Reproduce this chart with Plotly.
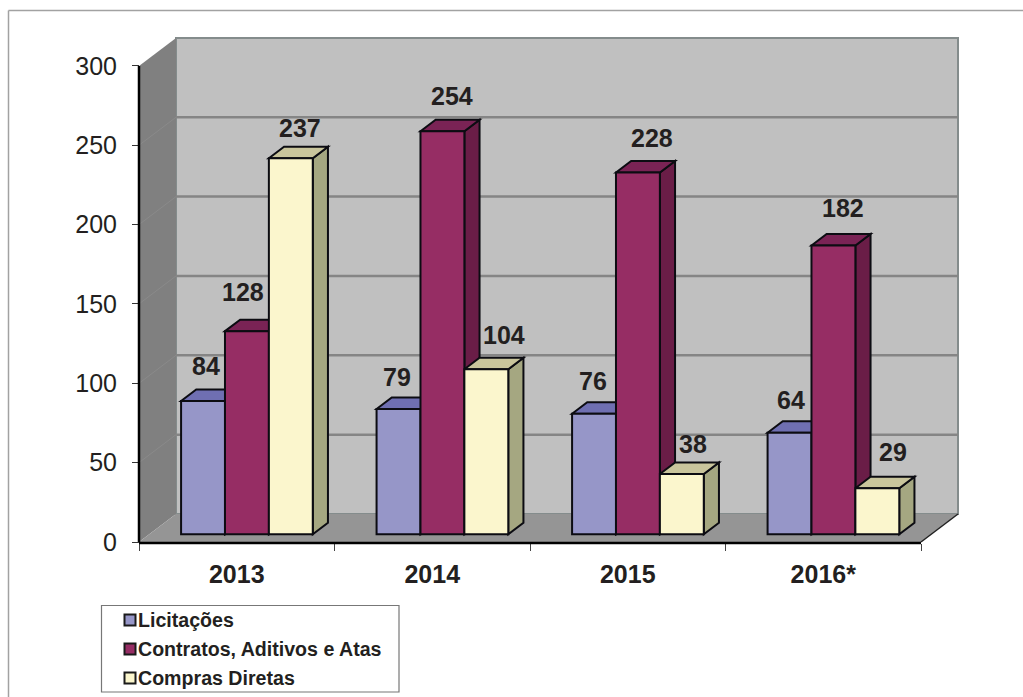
import plotly.graph_objects as go

# ---- data ----
years = ["2013", "2014", "2015", "2016*"]
series_names = ["Licitações", "Contratos, Aditivos e Atas", "Compras Diretas"]
licitacoes = [84, 79, 76, 64]
contratos = [128, 254, 228, 182]
compras = [237, 104, 38, 29]
y_ticks = [0, 50, 100, 150, 200, 250, 300]

# ---- styles ----
FRONT = ["#9696c8", "#962d64", "#fbf6cd"]
TOP = ["#6f6fb2", "#7a2355", "#c9c59c"]
SIDE = ["#5f5f9a", "#6a1d47", "#a5a781"]
INK = "#231f20"
EDGE = "#0c0c12"

# ---- layout geometry (pixels -> axis scales) ----
W, H = 1023, 697
PX0, PY0 = 139.0, 542.0           # axis origin in pixels
PX_PER_CAT, PX_PER_UNIT = 195.5, 1.587
DX = 37.0 / PX_PER_CAT            # full floor depth, horizontal shift in categories
DY = 28.0 / PX_PER_UNIT           # full floor depth, vertical shift in value units
D_FRONT, D_BACK = 0.275, 0.685    # depth of bar front/back faces
BAR_W = 43.9 / PX_PER_CAT

# label offsets (px) relative to the top of each front face
lab_dx = [[2.5, -2, -1.5, 1], [-4.4, 10, 13.6, 10], [8.7, 18, 10.7, 16]]
lab_dy = [[35, 32, 32.7, 32.7], [39, 35, 34.5, 37.5], [30, 34, 30, 36]]


def poly(points, fill, line=None, width=0, layer="below"):
    path = "M" + " L".join(f"{x},{y}" for x, y in points) + " Z"
    return dict(type="path", xref="x", yref="y", path=path, fillcolor=fill, layer=layer,
                line=dict(color=line or fill, width=width))


def seg(p, q, color, width, layer="below"):
    return dict(type="line", xref="x", yref="y", x0=p[0], y0=p[1], x1=q[0], y1=q[1],
                layer=layer, line=dict(color=color, width=width))


n_cat = len(years)
top_val = y_ticks[-1]
shapes = []

# frame (left + top edges of the picture)
shapes.append(dict(type="line", xref="paper", yref="paper", x0=8.5 / W, x1=8.5 / W, y0=0, y1=1 - 10.5 / H,
                   layer="below", line=dict(color="#a2a2a2", width=1.5)))
shapes.append(dict(type="line", xref="paper", yref="paper", x0=8.5 / W, x1=1, y0=1 - 10.5 / H, y1=1 - 10.5 / H,
                   layer="below", line=dict(color="#a2a2a2", width=1.5)))

# back wall, side wall, floor
shapes.append(poly([(DX, DY), (DX, top_val + DY), (n_cat + DX, top_val + DY), (n_cat + DX, DY)],
                   "#c0c0c0", "#848c8c", 2))
shapes.append(poly([(0, 0), (0, top_val), (DX, top_val + DY), (DX, DY)], "#808080"))
shapes.append(poly([(0, 0), (DX, DY), (n_cat + DX, DY), (n_cat, 0)], "#959595"))
shapes.append(seg((n_cat, 0), (n_cat + DX, DY), "#222222", 1.5))

# gridlines on the back and side walls
for t in y_ticks[1:-1]:
    shapes.append(seg((DX, t + DY), (n_cat + DX, t + DY), "#858585", 2.5))
    shapes.append(seg((0, t), (DX, t + DY), "#8a8a8a", 1))

# tops and sides of the bars, painted below the front faces
all_vals = [licitacoes, contratos, compras]
for c in range(n_cat):
    for s in range(3):
        v = all_vals[s][c]
        xl = c + 0.5 + (s - 1.5) * BAR_W + D_FRONT * DX
        xr = xl + BAR_W
        b0 = D_FRONT * DY
        ddx = (D_BACK - D_FRONT) * DX
        ddy = (D_BACK - D_FRONT) * DY
        shapes.append(poly([(xr, b0), (xr, b0 + v), (xr + ddx, b0 + v + ddy), (xr + ddx, b0 + ddy)],
                           SIDE[s], EDGE, 2))
        shapes.append(poly([(xl, b0 + v), (xl + ddx, b0 + v + ddy), (xr + ddx, b0 + v + ddy), (xr, b0 + v)],
                           TOP[s], EDGE, 2))

# axis lines
shapes.append(seg((0, 0), (0, top_val), "#000000", 2.5, "above"))
shapes.append(seg((0, -0.6), (n_cat, -0.6), "#000000", 2.5, "above"))

# legend box and swatches
LEG = (101.5, 605.5, 399, 692)
shapes.append(dict(type="rect", xref="paper", yref="paper", x0=LEG[0] / W, x1=LEG[2] / W,
                   y0=1 - LEG[3] / H, y1=1 - LEG[1] / H, layer="below",
                   fillcolor="#ffffff", line=dict(color="#777777", width=1.2)))
annotations = []
for s, (name, yc) in enumerate(zip(series_names, [620, 649, 678])):
    shapes.append(dict(type="rect", xref="paper", yref="paper", x0=124.5 / W, x1=135.5 / W,
                       y0=1 - (yc + 5.5) / H, y1=1 - (yc - 5.5) / H, layer="below",
                       fillcolor=FRONT[s], line=dict(color="#1a1a1a", width=2)))
    annotations.append(dict(xref="paper", yref="paper", x=136 / W, y=1 - yc / H, text=f"<b>{name}</b>",
                            showarrow=False, xanchor="left", yanchor="middle", xshift=0,
                            font=dict(family="Liberation Sans", size=19.6, color=INK)))

fig = go.Figure()
for s, name in enumerate(series_names):
    xs = [c + 0.5 + (s - 1) * BAR_W + D_FRONT * DX for c in range(n_cat)]
    fig.add_trace(go.Bar(x=xs, y=all_vals[s], base=[D_FRONT * DY] * n_cat, width=BAR_W, name=name,
                         marker=dict(color=FRONT[s], line=dict(color=EDGE, width=2)), showlegend=False))
    for c in range(n_cat):
        annotations.append(dict(x=xs[c], y=all_vals[s][c] + D_FRONT * DY, text=f"<b>{all_vals[s][c]}</b>",
                                showarrow=False, xanchor="center", yanchor="middle",
                                xshift=lab_dx[s][c], yshift=lab_dy[s][c],
                                font=dict(family="Liberation Sans", size=25, color=INK)))

fig.update_layout(
    width=W, height=H, margin=dict(l=0, r=0, t=0, b=0),
    paper_bgcolor="#ffffff", plot_bgcolor="#ffffff", barmode="overlay", showlegend=False,
    shapes=shapes, annotations=annotations,
    xaxis=dict(
        range=[-PX0 / PX_PER_CAT, (W - PX0) / PX_PER_CAT], domain=[0, 1], anchor="free", position=1 - (PY0 + 1) / H,
        tickmode="array", tickvals=[c + 0.5 for c in range(n_cat)], ticktext=[f"<b>{y}</b>" for y in years],
        ticks="", ticklabelstandoff=14, showgrid=False, zeroline=False, showline=False,
        tickfont=dict(family="Liberation Sans", size=25, color=INK),
        minor=dict(tickmode="array", tickvals=list(range(n_cat + 1)), ticks="outside", ticklen=7, tickwidth=1,
                   tickcolor="#444444", showgrid=False),
    ),
    yaxis=dict(
        range=[(PY0 - H) / PX_PER_UNIT, PY0 / PX_PER_UNIT], domain=[0, 1], anchor="free", position=PX0 / W,
        tickmode="array", tickvals=y_ticks, ticks="outside", ticklen=7, tickwidth=1, tickcolor="#333333",
        ticklabelstandoff=10, showgrid=False, zeroline=False, showline=False,
        tickfont=dict(family="Liberation Sans", size=25, color=INK),
    ),
)

fig.write_html("out.html", config={"displayModeBar": False},
               post_script="document.body.style.margin='0';document.documentElement.style.overflow='hidden';")
